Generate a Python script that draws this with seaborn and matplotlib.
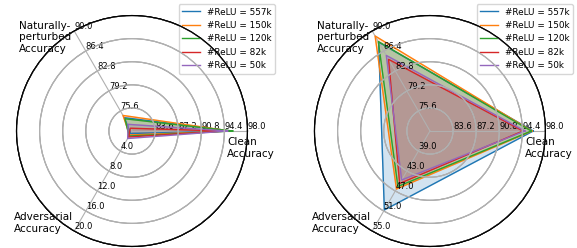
import numpy as np
import matplotlib
matplotlib.use("Agg")
import matplotlib.pyplot as plt
import seaborn as sns

axis_names = ["Clean\nAccuracy", "Naturally-\nperturbed\nAccuracy", "Adversarial\nAccuracy"]
series = ["#ReLU = 557k", "#ReLU = 150k", "#ReLU = 120k", "#ReLU = 82k", "#ReLU = 50k"]

# tick values per axis (first value is the centre, left unlabeled)
clean_ticks = [80.0, 83.6, 87.2, 90.8, 94.4, 98.0]
natural_ticks = [72.0, 75.6, 79.2, 82.8, 86.4, 90.0]
adv_ticks_left = [0.0, 4.0, 8.0, 12.0, 16.0, 20.0]
adv_ticks_right = [35.0, 39.0, 43.0, 47.0, 51.0, 55.0]

# left panel values (557k, 150k, 120k, 82k, 50k)
left_clean = [95.5, 95.3, 95.7, 94.3, 94.9]
left_natural = [74.4, 74.8, 74.2, 72.5, 73.2]
left_adv = [0.5, 0.8, 1.0, 1.2, 1.5]

# right panel values
right_clean = [96.1, 95.9, 95.8, 94.5, 94.8]
right_natural = [88.0, 89.1, 88.1, 84.9, 85.6]
right_adv = [50.8, 46.6, 46.1, 45.5, 44.8]

colors = sns.color_palette("tab10", 5)
angles = [0, 120, 240]


def radar(fig, rect, ticks, values, tag):
    axes = [fig.add_axes(rect, polar=True, label=f"{tag}{i}") for i in range(3)]
    axes[0].set_thetagrids(angles, labels=["", "", ""])
    for ax in axes[1:]:
        ax.patch.set_visible(False)
        ax.xaxis.set_visible(False)
    for i, ax in enumerate(axes):
        t = ticks[i]
        ax.set_rgrids(t[1:], labels=[f"{v:.1f}" for v in t[1:]], angle=angles[i], fontsize=6)
        ax.set_ylim(t[0], t[-1])
        ax.spines["polar"].set_color("black")

    # map every axis onto the scale of the first one
    lo0, hi0 = ticks[0][0], ticks[0][-1]
    theta = np.deg2rad(angles + [360])
    for k, name in enumerate(series):
        r = []
        for i in range(3):
            lo, hi = ticks[i][0], ticks[i][-1]
            r.append(lo0 + (values[i][k] - lo) / (hi - lo) * (hi0 - lo0))
        r.append(r[0])
        axes[0].plot(theta, r, color=colors[k], lw=1, label=name)
        axes[0].fill(theta, r, color=colors[k], alpha=0.2)

    axes[0].legend(loc="upper right", bbox_to_anchor=(1.12, 1.05), fontsize=6.4, borderaxespad=0)
    txt = dict(transform=axes[0].transAxes, fontsize=7.5)
    axes[0].text(0.913, 0.474, axis_names[0], ha="left", va="top", **txt)
    axes[0].text(0.01, 0.978, axis_names[1], ha="left", va="top", **txt)
    axes[0].text(-0.013, 0.055, axis_names[2], ha="left", va="bottom", **txt)


fig = plt.figure(figsize=(5.77, 2.48), dpi=100)
radar(fig, [0.0286, 0.006, 0.4003, 0.9315],
      [clean_ticks, natural_ticks, adv_ticks_left],
      [left_clean, left_natural, left_adv], "L")
radar(fig, [0.545, 0.006, 0.4003, 0.9315],
      [clean_ticks, natural_ticks, adv_ticks_right],
      [right_clean, right_natural, right_adv], "R")

fig.savefig("out.png", dpi=100)
